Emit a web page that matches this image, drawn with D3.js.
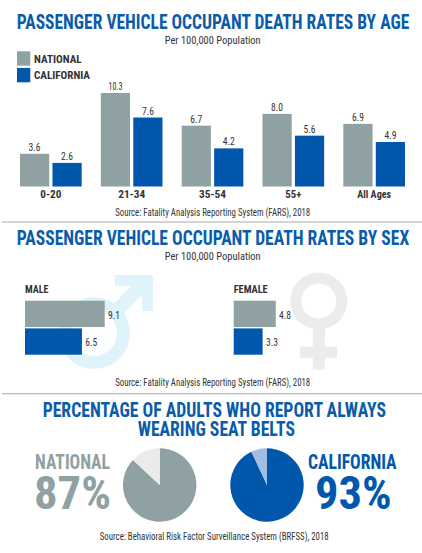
<!DOCTYPE html>
<html><head><meta charset="utf-8">
<script src="https://cdn.jsdelivr.net/npm/d3@7"></script>
<style>html,body{margin:0;padding:0;background:#fff}svg{display:block}text{font-family:"Liberation Sans Narrow","Roboto Condensed","Liberation Sans",sans-serif}</style>
</head><body><svg id="c" width="422" height="553"></svg>
<script>
const ageGroups = ["0-20","21-34","35-54","55+","All Ages"];
const ageNational = [3.6,10.3,6.7,8.0,6.9];
const ageCalifornia = [2.6,7.6,4.2,5.6,4.9];
const seriesNames = ["NATIONAL","CALIFORNIA"];
const sexGroups = ["MALE","FEMALE"];
const sexNational = [9.1,4.8];
const sexCalifornia = [6.5,3.3];
const beltPercent = [87,93];

const GREY="#8fa1a2", BLUE="#0057ab", INK="#333", TITLE="#0a5cab";
const svg=d3.select("#c");
function T(s,x,y,size,o={}){
  const t=svg.append("text").attr("x",x).attr("y",y).attr("font-size",size)
    .attr("fill",o.fill||INK).attr("font-weight",o.bold?700:400)
    .attr("text-anchor",o.anchor||"start").text(s);
  if(o.w){t.attr("textLength",o.w).attr("lengthAdjust","spacingAndGlyphs");}
  return t;
}
// separators
[222,393.7].forEach(y=>svg.append("line").attr("x1",2).attr("x2",422).attr("y1",y).attr("y2",y).attr("stroke","#aaa").attr("stroke-width",1));

// Section 1
T("PASSENGER VEHICLE OCCUPANT DEATH RATES BY AGE",213,29.3,20.5,{bold:1,fill:TITLE,anchor:"middle",w:392.5});
T("Per 100,000 Population",212.7,43.7,10.5,{anchor:"middle",w:96});
const legendY=d3.scaleBand().domain(seriesNames).range([51.3,82.3]).paddingInner(0.138);
const legendC=d3.scaleOrdinal().domain(seriesNames).range([GREY,BLUE]);
const legendW=[47.7,56];
seriesNames.forEach((s,i)=>{
  svg.append("rect").attr("x",17).attr("y",legendY(s)).attr("width",13.3).attr("height",legendY.bandwidth()).attr("fill",legendC(s));
  T(s,34,legendY(s)+11.3,11.5,{bold:1,w:legendW[i]});
});
const x0=d3.scaleBand().domain(ageGroups).range([20,405]).paddingInner(0.237);
const x1=d3.scaleBand().domain(seriesNames).range([0,x0.bandwidth()]).paddingInner(0.1);
const yAge=d3.scaleLinear().domain([0,10.3]).range([186.5,93]);
const ageVals=[ageNational,ageCalifornia];
const ageLabelW={"0-20":21,"21-34":27,"35-54":27,"55+":16,"All Ages":34};
ageGroups.forEach((g,i)=>{
  seriesNames.forEach((s,j)=>{
    const v=ageVals[j][i];
    svg.append("rect").attr("x",x0(g)+x1(s)).attr("y",yAge(v)).attr("width",x1.bandwidth()).attr("height",yAge(0)-yAge(v)).attr("fill",legendC(s));
    T(v.toFixed(1),x0(g)+x1(s)+x1.bandwidth()/2,yAge(v)-3,11,{anchor:"middle",w:v>=10?14:12});
  });
  T(g,x0(g)+x0.bandwidth()/2,198,11.5,{bold:1,anchor:"middle",w:ageLabelW[g]});
});
T("Source: Fatality Analysis Reporting System (FARS), 2018",212.7,215.7,10,{anchor:"middle",w:195});

// Section 2
T("PASSENGER VEHICLE OCCUPANT DEATH RATES BY SEX",213,245.3,20.5,{bold:1,fill:TITLE,anchor:"middle",w:392.5});
T("Per 100,000 Population",212.7,259.7,10.5,{anchor:"middle",w:96});
// male symbol
const ARROW="#dff3fb";
svg.append("path").attr("fill-rule","evenodd").attr("fill",ARROW)
  .attr("d",d3.arc()({innerRadius:23,outerRadius:36,startAngle:0,endAngle:2*Math.PI}))
  .attr("transform","translate(94,333)");
svg.append("path").attr("fill",ARROW).attr("d","M115,275L153,275L153,311L142,311L142,295L118,319L108,310L131,286L115,286Z");
// female symbol
const FEM="#ececec";
svg.append("path").attr("fill",FEM)
  .attr("d",d3.arc()({innerRadius:17.5,outerRadius:28.5,startAngle:0,endAngle:2*Math.PI}))
  .attr("transform","translate(318.7,301)");
svg.append("path").attr("fill",FEM).attr("d","M313,328H325V346.7H337V358.3H325V369.5H313V358.3H300V346.7H313Z");

const xSex=d3.scaleLinear().domain([0,9.1]).range([0,79.7]);
const sexLeft=d3.scaleOrdinal().domain(sexGroups).range([25,233.7]);
const ySex=d3.scaleBand().domain(seriesNames).range([300.7,354.7]).paddingInner(0.05);
const sexVals=[sexNational,sexCalifornia];
const sexW=[23.5,34];
sexGroups.forEach((g,i)=>{
  T(g,sexLeft(g),292.7,11.5,{bold:1,w:sexW[i]});
  seriesNames.forEach((s,j)=>{
    const v=sexVals[j][i];
    svg.append("rect").attr("x",sexLeft(g)).attr("y",ySex(s)).attr("width",xSex(v)).attr("height",ySex.bandwidth()).attr("fill",legendC(s));
    T(v.toFixed(1),sexLeft(g)+xSex(v)+3.3,ySex(s)+18,11,{w:12});
  });
});
T("Source: Fatality Analysis Reporting System (FARS), 2018",212.7,385.7,10,{anchor:"middle",w:195});

// Section 3
T("PERCENTAGE OF ADULTS WHO REPORT ALWAYS",214.3,416.7,20,{bold:1,fill:TITLE,anchor:"middle",w:343.3});
T("WEARING SEAT BELTS",216.3,436.3,20,{bold:1,fill:TITLE,anchor:"middle",w:157.3});
const pie=d3.pie().sort(null);
const arc=d3.arc().innerRadius(0).outerRadius(36.7);
const pieCx=d3.scaleOrdinal().domain(seriesNames).range([159.7,267]);
const pieFill=[[GREY,"#ebebeb"],[BLUE,"#a0bde3"]];
seriesNames.forEach((s,i)=>{
  const g=svg.append("g").attr("transform",`translate(${pieCx(s)},485)`);
  g.selectAll("path").data(pie([beltPercent[i],100-beltPercent[i]])).join("path")
    .attr("d",arc).attr("fill",(d,k)=>pieFill[i][k]);
});
T("NATIONAL",72.5,468.7,21,{bold:1,fill:GREY,anchor:"middle",w:75});
T(beltPercent[0]+"%",72.5,509.3,46,{bold:1,fill:GREY,anchor:"middle",w:77});
T("CALIFORNIA",352.3,468.7,21,{bold:1,fill:BLUE,anchor:"middle",w:88.7});
T(beltPercent[1]+"%",353.3,509.3,46,{bold:1,fill:BLUE,anchor:"middle",w:76.7});
T("Source: Behavioral Risk Factor Surveillance System (BRFSS), 2018",214.2,540,10,{anchor:"middle",w:229});
</script></body></html>
